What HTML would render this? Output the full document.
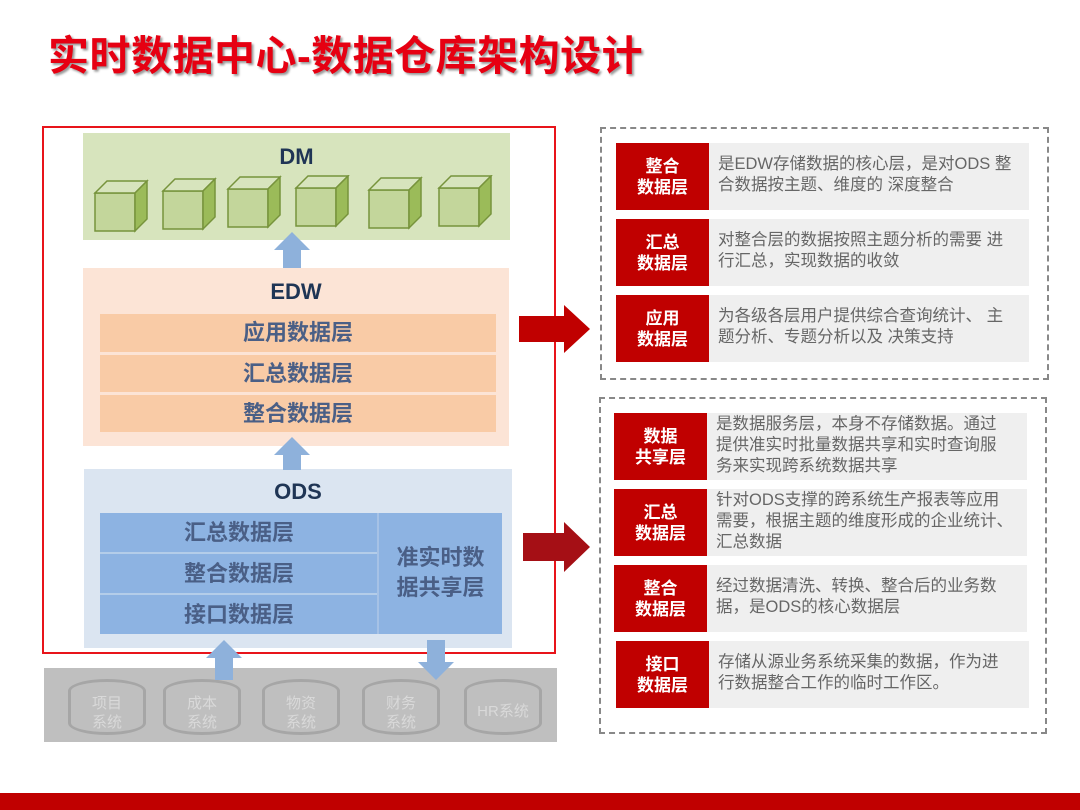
<!DOCTYPE html><html><head><meta charset="utf-8"><style>
*{margin:0;padding:0;box-sizing:border-box}
body{width:1080px;height:810px;position:relative;background:#fff;font-family:"Liberation Sans","Noto Sans CJK SC",sans-serif;overflow:hidden}
.a{position:absolute}
.t{color:#4a5f86;font-size:22px;text-align:center;font-weight:bold}
.h{color:#1f3555;font-weight:bold;font-size:22px;text-align:center}
.lab{position:absolute;background:#c00000;color:#fff;font-weight:bold;font-size:17px;line-height:21px;text-align:center;display:flex;align-items:center;justify-content:center}
.txt{position:absolute;background:#efefef;color:#666;font-size:16.5px;line-height:21px;padding:4px 0 0 9px;white-space:nowrap;overflow:hidden}
.dash{position:absolute;border:2px dashed #888}
.cyl{position:absolute;width:78px;height:56px;border:3px solid #a6a6a6;border-radius:39px/12px;background:#bfbfbf;color:#d9d9d9;font-size:15px;line-height:19px;text-align:center;padding-top:12px}
</style></head><body>
<div class="a" style="left:48px;top:22px;font-size:41px;font-weight:bold;color:#e60012;text-shadow:2px 2px 2px #999;letter-spacing:0.5px">实时数据中心-数据仓库架构设计</div>

<div class="a" style="left:44px;top:668px;width:513px;height:74px;background:#bfbfbf"></div>
<div class="cyl" style="left:68px;top:679px">项目<br>系统</div>
<div class="cyl" style="left:163px;top:679px">成本<br>系统</div>
<div class="cyl" style="left:262px;top:679px">物资<br>系统</div>
<div class="cyl" style="left:362px;top:679px">财务<br>系统</div>
<div class="cyl" style="left:464px;top:679px;padding-top:20px">HR系统</div>

<div class="a" style="left:42px;top:126px;width:514px;height:528px;border:2px solid #e8141a"></div>
<div class="a" style="left:83px;top:133px;width:427px;height:107px;background:#d7e4bd"></div>
<div class="a h" style="left:83px;top:144px;width:427px">DM</div>
<svg class="a" style="left:83px;top:175px" width="427" height="65">
<g fill="#c3d69b" stroke="#77933c" stroke-width="1.5">
<g transform="translate(12,6)"><rect x="0" y="12" width="40" height="38"/><polygon points="0,12 12,0 52,0 40,12" fill="#d7e4bd"/><polygon points="40,12 52,0 52,38 40,50" fill="#9bbb59"/></g>
<g transform="translate(80,4)"><rect x="0" y="12" width="40" height="38"/><polygon points="0,12 12,0 52,0 40,12" fill="#d7e4bd"/><polygon points="40,12 52,0 52,38 40,50" fill="#9bbb59"/></g>
<g transform="translate(145,2)"><rect x="0" y="12" width="40" height="38"/><polygon points="0,12 12,0 52,0 40,12" fill="#d7e4bd"/><polygon points="40,12 52,0 52,38 40,50" fill="#9bbb59"/></g>
<g transform="translate(213,1)"><rect x="0" y="12" width="40" height="38"/><polygon points="0,12 12,0 52,0 40,12" fill="#d7e4bd"/><polygon points="40,12 52,0 52,38 40,50" fill="#9bbb59"/></g>
<g transform="translate(286,3)"><rect x="0" y="12" width="40" height="38"/><polygon points="0,12 12,0 52,0 40,12" fill="#d7e4bd"/><polygon points="40,12 52,0 52,38 40,50" fill="#9bbb59"/></g>
<g transform="translate(356,1)"><rect x="0" y="12" width="40" height="38"/><polygon points="0,12 12,0 52,0 40,12" fill="#d7e4bd"/><polygon points="40,12 52,0 52,38 40,50" fill="#9bbb59"/></g>
</g></svg>

<div class="a" style="left:83px;top:268px;width:426px;height:178px;background:#fce4d6"></div>
<div class="a h" style="left:83px;top:279px;width:426px">EDW</div>
<div class="a t" style="left:100px;top:314px;width:396px;height:38px;line-height:38px;background:#f9cba6">应用数据层</div>
<div class="a t" style="left:100px;top:355px;width:396px;height:37px;line-height:37px;background:#f9cba6">汇总数据层</div>
<div class="a t" style="left:100px;top:395px;width:396px;height:37px;line-height:37px;background:#f9cba6">整合数据层</div>

<div class="a" style="left:84px;top:469px;width:428px;height:179px;background:#dbe5f1"></div>
<div class="a h" style="left:84px;top:479px;width:428px">ODS</div>
<div class="a" style="left:100px;top:513px;width:402px;height:121px;background:#8db3e2"></div>
<div class="a" style="left:100px;top:552px;width:278px;height:2px;background:#b4cde9"></div>
<div class="a" style="left:100px;top:593px;width:278px;height:2px;background:#b4cde9"></div>
<div class="a" style="left:377px;top:513px;width:2px;height:121px;background:#a6c2e6"></div>
<div class="a t" style="left:100px;top:513px;width:278px;height:40px;line-height:40px">汇总数据层</div>
<div class="a t" style="left:100px;top:554px;width:278px;height:40px;line-height:40px">整合数据层</div>
<div class="a t" style="left:100px;top:595px;width:278px;height:39px;line-height:39px">接口数据层</div>
<div class="a t" style="left:379px;top:543px;width:123px;line-height:30px">准实时数<br>据共享层</div>

<svg class="a" style="left:0;top:0" width="1080" height="810">
<g fill="#8eb1db">
<polygon points="292,232 310,250 301,250 301,268 283,268 283,250 274,250"/>
<polygon points="292,437 310,455 301,455 301,470 283,470 283,455 274,455"/>
<polygon points="224,640 242,658 233,658 233,680 215,680 215,658 206,658"/>
<polygon points="436,680 454,662 445,662 445,640 427,640 427,662 418,662"/>
</g>
<polygon points="519,316 564,316 564,305 590,329 564,353 564,342 519,342" fill="#c00000"/>
<polygon points="523,533 564,533 564,522 590,547 564,572 564,561 523,561" fill="#a50f15"/>
<rect x="0" y="793" width="1080" height="17" fill="#c00000"/>
</svg>

<div class="dash" style="left:600px;top:127px;width:449px;height:253px"></div>
<div class="lab" style="left:616px;top:143px;width:93px;height:67px">整合<br>数据层</div>
<div class="txt" style="left:709px;top:143px;width:320px;height:67px;padding-top:11px">是EDW存储数据的核心层，是对ODS 整<br>合数据按主题、维度的 深度整合</div>
<div class="lab" style="left:616px;top:219px;width:93px;height:67px">汇总<br>数据层</div>
<div class="txt" style="left:709px;top:219px;width:320px;height:67px;padding-top:11px">对整合层的数据按照主题分析的需要 进<br>行汇总，实现数据的收敛</div>
<div class="lab" style="left:616px;top:295px;width:93px;height:67px">应用<br>数据层</div>
<div class="txt" style="left:709px;top:295px;width:320px;height:67px;padding-top:11px">为各级各层用户提供综合查询统计、 主<br>题分析、专题分析以及 决策支持</div>

<div class="dash" style="left:599px;top:397px;width:448px;height:337px"></div>
<div class="lab" style="left:614px;top:413px;width:93px;height:67px">数据<br>共享层</div>
<div class="txt" style="left:707px;top:413px;width:320px;height:67px;padding-top:1px">是数据服务层，本身不存储数据。通过<br>提供准实时批量数据共享和实时查询服<br>务来实现跨系统数据共享</div>
<div class="lab" style="left:614px;top:489px;width:93px;height:67px">汇总<br>数据层</div>
<div class="txt" style="left:707px;top:489px;width:320px;height:67px;padding-top:1px">针对ODS支撑的跨系统生产报表等应用<br>需要，根据主题的维度形成的企业统计、<br>汇总数据</div>
<div class="lab" style="left:614px;top:565px;width:93px;height:67px">整合<br>数据层</div>
<div class="txt" style="left:707px;top:565px;width:320px;height:67px;padding-top:11px">经过数据清洗、转换、整合后的业务数<br>据，是ODS的核心数据层</div>
<div class="lab" style="left:616px;top:641px;width:93px;height:67px">接口<br>数据层</div>
<div class="txt" style="left:709px;top:641px;width:320px;height:67px;padding-top:11px">存储从源业务系统采集的数据，作为进<br>行数据整合工作的临时工作区。</div>
</body></html>
